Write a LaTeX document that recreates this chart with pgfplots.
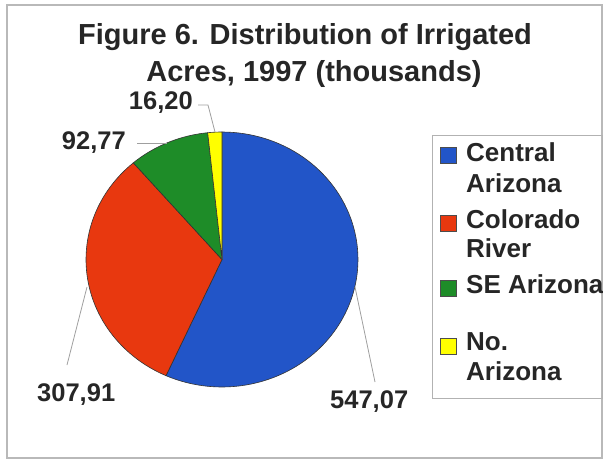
\documentclass[border=0pt]{standalone}
\usepackage{pgfplots}
\pgfplotsset{compat=1.18}
\usepackage{pgfplotstable}
\usepackage{fontspec}
\setmainfont{Liberation Sans}
\definecolor{cA}{RGB}{34,85,200}
\definecolor{cB}{RGB}{232,56,15}
\definecolor{cC}{RGB}{30,140,40}
\definecolor{cD}{RGB}{255,255,0}
\definecolor{txt}{RGB}{38,38,38}
\pgfplotstableread{
name value
Central 547.07
Colorado 307.91
SE 92.77
North 16.20
}\piedata
\begin{document}
\begin{tikzpicture}[x=1pt,y=1pt]
\pgfplotstablegetelem{0}{value}\of\piedata \let\va\pgfplotsretval
\pgfplotstablegetelem{1}{value}\of\piedata \let\vb\pgfplotsretval
\pgfplotstablegetelem{2}{value}\of\piedata \let\vc\pgfplotsretval
\pgfplotstablegetelem{3}{value}\of\piedata \let\vd\pgfplotsretval
\pgfmathsetmacro\tot{\va+\vb+\vc+\vd}
\pgfmathsetmacro\aA{90}
\pgfmathsetmacro\aB{\aA-360*(\va/\tot)}
\pgfmathsetmacro\aC{\aB-360*(\vb/\tot)}
\pgfmathsetmacro\aD{\aC-360*(\vc/\tot)}
\pgfmathsetmacro\aE{\aD-360*(\vd/\tot)}
\path[use as bounding box] (0,0) rectangle (607,461);
\draw[gray!55, line width=1.5pt] (7,456) rectangle (602,3);
\node[anchor=base, font=\bfseries\fontsize{29}{34}\selectfont, text=txt, inner sep=0pt] at (305,416) {Figure 6. Distribution of Irrigated};
\node[anchor=base, font=\bfseries\fontsize{29}{34}\selectfont, text=txt, inner sep=0pt] at (314,379) {Acres, 1997 (thousands)};
\begin{axis}[at={(86pt,74pt)}, anchor=south west, scale only axis, width=272pt, height=255pt,
  xmin=-1, xmax=1, ymin=-1, ymax=1, hide axis, clip=false]
\addplot[fill=cA, draw=black!80, line width=0.6pt, domain=\aB:\aA, samples=90, variable=\t] ({cos(\t)},{sin(\t)}) -- (axis cs:0,0) -- cycle;
\addplot[fill=cB, draw=black!80, line width=0.6pt, domain=\aC:\aB, samples=60, variable=\t] ({cos(\t)},{sin(\t)}) -- (axis cs:0,0) -- cycle;
\addplot[fill=cC, draw=black!80, line width=0.6pt, domain=\aD:\aC, samples=30, variable=\t] ({cos(\t)},{sin(\t)}) -- (axis cs:0,0) -- cycle;
\addplot[fill=cD, draw=black!80, line width=0.6pt, domain=\aE:\aD, samples=10, variable=\t] ({cos(\t)},{sin(\t)}) -- (axis cs:0,0) -- cycle;
\end{axis}
% leader lines
\draw[gray!75, line width=0.8pt] (198,356)--(208,356)--(215,329);
\draw[gray!75, line width=0.8pt] (137,318)--(167,318);
\draw[gray!75, line width=0.8pt] (67,96)--(87,174);
\draw[gray!75, line width=0.8pt] (375,79)--(355,174);
% labels
\begin{scope}[every node/.style={font=\bfseries\fontsize{25.5}{30}\selectfont, text=txt, inner sep=0pt}]
\node[anchor=base east] at (193,351) {16,20};
\node[anchor=base east] at (126,311) {92,77};
\node[anchor=base west] at (37,60) {307,91};
\node[anchor=base west] at (330,53) {547,07};
\end{scope}
% legend
\draw[gray!60, line width=0.8pt] (432,326) rectangle (602,63);
\begin{scope}
\clip (432,63) rectangle (602,326);
\filldraw[fill=cA, draw=black!70, line width=0.6pt] (440,314) rectangle (456,298);
\filldraw[fill=cB, draw=black!70, line width=0.6pt] (440,246) rectangle (456,230);
\filldraw[fill=cC, draw=black!70, line width=0.6pt] (440,181) rectangle (456,165);
\filldraw[fill=cD, draw=black!70, line width=0.6pt] (440,123) rectangle (456,107);
\begin{scope}[every node/.style={font=\bfseries\fontsize{26}{30}\selectfont, text=txt, inner sep=0pt, anchor=base west}]
\node at (466,299) {Central};
\node at (466,269) {Arizona};
\node at (466,233) {Colorado};
\node at (466,204) {River};
\node at (466,168) {SE Arizona};
\node at (466,111) {No.};
\node at (466,81) {Arizona};
\end{scope}
\end{scope}
\end{tikzpicture}
\end{document}
